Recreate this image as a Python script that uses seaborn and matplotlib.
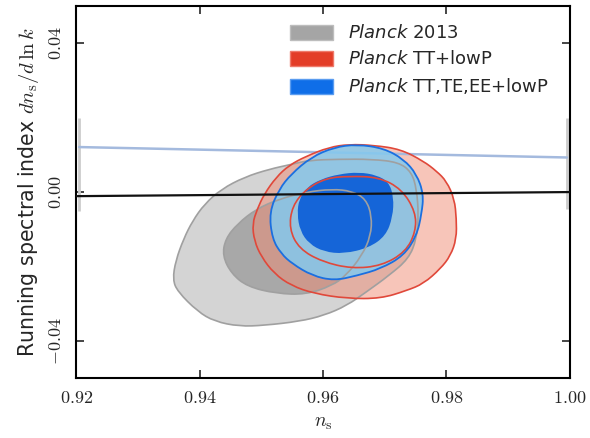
import numpy as np
import seaborn as sns
import matplotlib.pyplot as plt
from matplotlib.patches import Patch, PathPatch
from matplotlib.path import Path
from matplotlib.ticker import FuncFormatter

# contour outlines (n_s, dn_s/dlnk)
grey2_ns = [0.93565, 0.93613, 0.93742, 0.93887, 0.94081, 0.94355, 0.94726, 0.95129, 0.95500, 0.95774,
            0.96258, 0.96790, 0.97226, 0.97435, 0.97516, 0.97548, 0.97516, 0.97387, 0.97065, 0.96710,
            0.96387, 0.96016, 0.95613, 0.95048, 0.94645, 0.94242, 0.93968, 0.93645]
grey2_run = [-0.02355, -0.01846, -0.01258, -0.00776, -0.00321, 0.00080, 0.00401, 0.00615, 0.00749, 0.00856,
             0.00883, 0.00883, 0.00803, 0.00535, 0.00080, -0.00615, -0.01258, -0.01793, -0.02248, -0.02676,
             -0.03050, -0.03318, -0.03478, -0.03585, -0.03612, -0.03478, -0.03211, -0.02676]

grey1_ns = [0.94371, 0.94419, 0.94613, 0.94919, 0.95290, 0.95726, 0.96145, 0.96468, 0.96694, 0.96790,
            0.96774, 0.96629, 0.96371, 0.96145, 0.95726, 0.95242, 0.94774, 0.94516]
grey1_run = [-0.01712, -0.01258, -0.00856, -0.00455, -0.00187, 0.00000, 0.00080, 0.00027, -0.00187, -0.00642,
             -0.01177, -0.01712, -0.02248, -0.02515, -0.02756, -0.02729, -0.02542, -0.02194]

red2_ns = [0.94855, 0.94887, 0.95000, 0.95210, 0.95484, 0.95855, 0.96387, 0.96935, 0.97355, 0.97629,
           0.97903, 0.98065, 0.98161, 0.98161, 0.98129, 0.98000, 0.97839, 0.97629, 0.97258, 0.96823,
           0.96419, 0.96097, 0.95726, 0.95452, 0.95242, 0.95048, 0.94935]
red2_run = [-0.00856, -0.01311, -0.01739, -0.02194, -0.02515, -0.02729, -0.02863, -0.02863, -0.02649, -0.02462,
            -0.02060, -0.01712, -0.01258, -0.00722, -0.00187, 0.00294, 0.00562, 0.00829, 0.01151, 0.01258,
            0.01284, 0.01204, 0.00963, 0.00722, 0.00401, -0.00054, -0.00455]

red1_ns = [0.96419, 0.96903, 0.97274, 0.97500, 0.97500, 0.97339, 0.96952, 0.96468, 0.95984, 0.95613,
           0.95452, 0.95500, 0.95726, 0.96048]
red1_run = [0.00428, 0.00401, 0.00080, -0.00535, -0.01070, -0.01605, -0.01980, -0.02060, -0.01873, -0.01525,
            -0.00990, -0.00375, 0.00080, 0.00375]

blue2_ns = [0.95129, 0.95177, 0.95323, 0.95500, 0.95823, 0.96177, 0.96548, 0.96935, 0.97306, 0.97516,
            0.97597, 0.97629, 0.97516, 0.97306, 0.96984, 0.96548, 0.96177, 0.95806, 0.95484, 0.95290]
blue2_run = [-0.00535, -0.01258, -0.01659, -0.01926, -0.02248, -0.02381, -0.02248, -0.02060, -0.01712, -0.01177,
             -0.00589, -0.00054, 0.00482, 0.00883, 0.01177, 0.01284, 0.01204, 0.00936, 0.00482, 0.00080]

blue1_ns = [0.95581, 0.95613, 0.95742, 0.95968, 0.96258, 0.96581, 0.96871, 0.97065, 0.97145, 0.97129,
            0.97016, 0.96742, 0.96339, 0.96016, 0.95774, 0.95629]
blue1_run = [-0.00589, -0.00187, 0.00134, 0.00348, 0.00482, 0.00535, 0.00455, 0.00268, -0.00134, -0.00669,
             -0.01177, -0.01498, -0.01659, -0.01605, -0.01391, -0.01043]

# theory lines and the grey bars at the edges
line_ns = [0.92, 1.00]
black_run = [-0.0011, 0.0000]
lblue_ns = [0.9205, 0.9995]
lblue_run = [0.0121, 0.0093]
bar_ns = [0.9205, 0.9995]
bar_lo = [-0.0052, -0.0045]
bar_hi = [0.0200, 0.0200]

labels = ["$\\mathsf{Planck}$ 2013", "$\\mathsf{Planck}$ TT+lowP", "$\\mathsf{Planck}$ TT,TE,EE+lowP"]
xticks = [0.92, 0.94, 0.96, 0.98, 1.00]
yticks = [-0.04, 0.00, 0.04]

sns.set_theme(style="ticks")
plt.rcParams["font.family"] = ["DejaVu Sans"]
plt.rcParams["mathtext.fontset"] = "custom"
plt.rcParams["mathtext.rm"] = "cmr10"
plt.rcParams["mathtext.it"] = "cmmi10"
plt.rcParams["mathtext.sf"] = "DejaVu Sans:italic"
plt.rcParams["mathtext.fallback"] = "cm"


def contour(ax, xs, ys, **kw):
    # closed outline, rounded with quadratic curves through the edge midpoints
    p = np.column_stack([xs, ys])
    m = (p + np.roll(p, -1, axis=0)) / 2
    verts = [m[-1]]
    codes = [Path.MOVETO]
    for i in range(len(p)):
        verts += [p[i], m[i]]
        codes += [Path.CURVE3, Path.CURVE3]
    verts.append(m[-1])
    codes.append(Path.CLOSEPOLY)
    ax.add_patch(PathPatch(Path(verts, codes), **kw))


fig = plt.figure(figsize=(5.9, 4.38), dpi=100)
ax = fig.add_axes([0.129, 0.137, 0.837, 0.849])

# fills
contour(ax, grey2_ns, grey2_run, fc="#d4d4d4", lw=0, zorder=1)
contour(ax, grey1_ns, grey1_run, fc="#a8a8a8", lw=0, zorder=1.1)
contour(ax, red2_ns, red2_run, fc="#f08c74", alpha=0.5, lw=0, zorder=1.2)
contour(ax, red1_ns, red1_run, fc="#ec9d8c", lw=0, zorder=1.3)
sns.lineplot(x=lblue_ns, y=lblue_run, color="#a4bade", lw=1.8, ax=ax, zorder=1.35)
contour(ax, blue2_ns, blue2_run, fc="#84c9ee", alpha=0.85, lw=0, zorder=1.4)
contour(ax, blue1_ns, blue1_run, fc="#1565d8", lw=0, zorder=1.5)

# outlines on top
contour(ax, grey2_ns, grey2_run, fill=False, ec="#a0a0a0", lw=1.2, zorder=2)
contour(ax, grey1_ns, grey1_run, fill=False, ec="#a0a0a0", lw=1.2, zorder=2)
contour(ax, red2_ns, red2_run, fill=False, ec="#e0483a", lw=1.2, zorder=2.1)
contour(ax, red1_ns, red1_run, fill=False, ec="#e0483a", lw=1.2, zorder=2.1)
contour(ax, blue2_ns, blue2_run, fill=False, ec="#1a6fe0", lw=1.3, zorder=2.2)

sns.lineplot(x=line_ns, y=black_run, color="#111111", lw=1.6, ax=ax, zorder=3)
ax.vlines(bar_ns, bar_lo, bar_hi, color="#cccccc", lw=2, zorder=0.9)

ax.set_xlim(0.92, 1.00)
ax.set_ylim(-0.05, 0.05)
ax.set_xticks(xticks)
ax.set_yticks(yticks)
fmt = FuncFormatter(lambda v, p: "$%.2f$" % v if v >= 0 else "$-%.2f$" % abs(v))
ax.xaxis.set_major_formatter(fmt)
ax.yaxis.set_major_formatter(fmt)
ax.tick_params(direction="in", length=6, width=1.2, top=True, right=True, labelsize=13, pad=8)
ax.tick_params(axis="y", labelrotation=90)
for t in ax.get_yticklabels():
    t.set_va("center")
for s in ax.spines.values():
    s.set_linewidth(1.5)
    s.set_color("black")

ax.set_xlabel("$n_{\\rm s}$", fontsize=14, labelpad=4)
ax.set_ylabel("Running spectral index $dn_{\\rm s}/d\\,\\ln k$", fontsize=14.8, labelpad=4)

handles = [Patch(fc="#a5a5a5", ec="#bdbdbd"), Patch(fc="#e33d27", ec="#ee7a6a"), Patch(fc="#0f6ee8", ec="#5a9cf0")]
ax.legend(handles, labels, loc="upper left", bbox_to_anchor=(0.4, 0.995), frameon=False,
          fontsize=13, handlelength=2.4, handleheight=0.9, handletextpad=0.8, labelspacing=0.45)

fig.savefig("out.png", dpi=100)
